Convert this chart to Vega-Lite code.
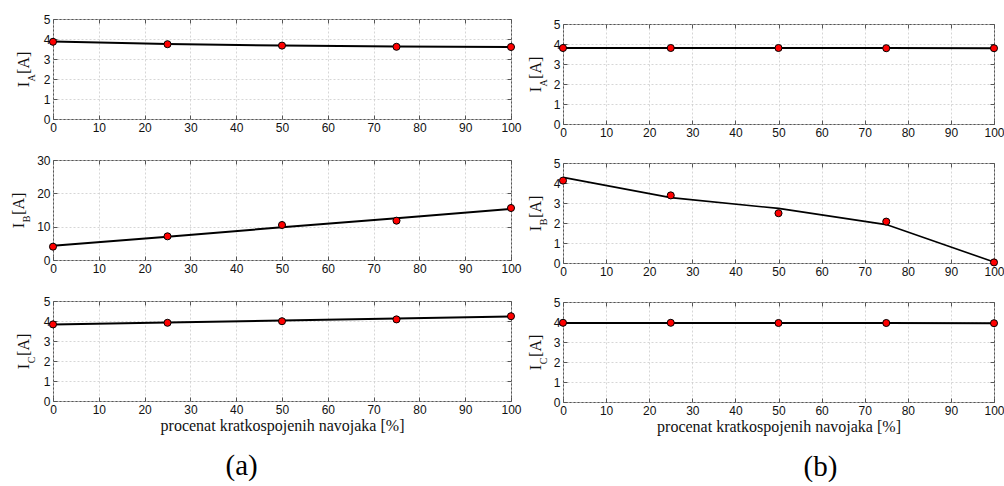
{
  "$schema": "https://vega.github.io/schema/vega-lite/v6.json",
  "padding": {"left": 9, "top": 12, "right": 0, "bottom": 0},
  "background": "white",
  "datasets": {
    "pts": [
      {"panel": "aA", "x": 0, "meas": 3.86, "fit": 3.87},
      {"panel": "aA", "x": 25, "meas": 3.74, "fit": 3.75},
      {"panel": "aA", "x": 50, "meas": 3.67, "fit": 3.67},
      {"panel": "aA", "x": 75, "meas": 3.61, "fit": 3.62},
      {"panel": "aA", "x": 100, "meas": 3.6, "fit": 3.6},
      {"panel": "aB", "x": 0, "meas": 4.0, "fit": 4.3},
      {"panel": "aB", "x": 25, "meas": 7.1, "fit": 7.0},
      {"panel": "aB", "x": 50, "meas": 10.5, "fit": 9.8},
      {"panel": "aB", "x": 75, "meas": 11.8, "fit": 12.5},
      {"panel": "aB", "x": 100, "meas": 15.6, "fit": 15.3},
      {"panel": "aC", "x": 0, "meas": 3.83, "fit": 3.82},
      {"panel": "aC", "x": 25, "meas": 3.91, "fit": 3.92},
      {"panel": "aC", "x": 50, "meas": 3.99, "fit": 4.02},
      {"panel": "aC", "x": 75, "meas": 4.08, "fit": 4.12},
      {"panel": "aC", "x": 100, "meas": 4.24, "fit": 4.22},
      {"panel": "bA", "x": 0, "meas": 3.8, "fit": 3.8},
      {"panel": "bA", "x": 25, "meas": 3.8, "fit": 3.8},
      {"panel": "bA", "x": 50, "meas": 3.8, "fit": 3.8},
      {"panel": "bA", "x": 75, "meas": 3.79, "fit": 3.8},
      {"panel": "bA", "x": 100, "meas": 3.79, "fit": 3.79},
      {"panel": "bB", "x": 0, "meas": 4.12, "fit": 4.28},
      {"panel": "bB", "x": 25, "meas": 3.38, "fit": 3.27},
      {"panel": "bB", "x": 50, "meas": 2.49, "fit": 2.73},
      {"panel": "bB", "x": 75, "meas": 2.07, "fit": 1.92},
      {"panel": "bB", "x": 100, "meas": 0.03, "fit": 0.05},
      {"panel": "bC", "x": 0, "meas": 3.96, "fit": 3.95},
      {"panel": "bC", "x": 25, "meas": 3.96, "fit": 3.95},
      {"panel": "bC", "x": 50, "meas": 3.95, "fit": 3.95},
      {"panel": "bC", "x": 75, "meas": 3.95, "fit": 3.95},
      {"panel": "bC", "x": 100, "meas": 3.94, "fit": 3.94}
    ]
  },
  "data": {"name": "pts"},
  "config": {
    "view": {"stroke": "#555555", "strokeWidth": 1},
    "axis": {
      "domain": false,
      "tickColor": "#555555",
      "tickSize": -4,
      "labelFont": "Liberation Sans",
      "labelFontSize": 12,
      "labelColor": "#111111",
      "labelFlush": false,
      "labelOverlap": false,
      "gridColor": "#cccccc",
      "gridDash": [2, 2],
      "gridWidth": 0.8,
      "titleFont": "Liberation Serif",
      "titleFontWeight": "normal",
      "titleColor": "#111111"
    }
  },
  "hconcat": [
    {
      "title": {"text": "(a)", "orient": "bottom", "anchor": "start", "frame": "bounds", "fontSize": 29, "font": "Liberation Serif", "fontWeight": "normal", "offset": 18, "dx": 216, "color": "#000000"},
      "spacing": 19,
      "vconcat": [
        {
          "width": 458, "height": 100,
          "transform": [{"filter": "datum.panel === 'aA'"}],
          "layer": [
            {"mark": {"type": "line", "color": "#000000", "strokeWidth": 2},
             "encoding": {
               "x": {"field": "x", "type": "quantitative", "scale": {"domain": [0, 100], "nice": false, "zero": false},
                     "axis": {"orient": "bottom", "values": [0,10,20,30,40,50,60,70,80,90,100], "grid": true, "labelPadding": 7, "title": null}},
               "y": {"field": "fit", "type": "quantitative", "scale": {"domain": [0, 5], "nice": false},
                     "axis": {"orient": "left", "values": [0,1,2,3,4,5], "grid": true, "labelPadding": 7, "title": "I\u00a0\u00a0[A]", "titleFontSize": 16, "titleAngle": -90, "titleX": -25, "titleY": 50, "titleAlign": "center", "titleBaseline": "alphabetic"}}
             }},
            {"mark": {"type": "circle", "fill": "#ff0000", "stroke": "#000000", "strokeWidth": 1, "size": 50, "opacity": 1},
             "encoding": {
               "x": {"field": "x", "type": "quantitative", "axis": {"orient": "top", "values": [0,10,20,30,40,50,60,70,80,90,100], "labels": false, "grid": false, "title": null}},
               "y": {"field": "meas", "type": "quantitative", "axis": {"orient": "right", "values": [0,1,2,3,4,5], "labels": false, "grid": false, "title": "A", "titleFontSize": 10, "titleAngle": -90, "titleX": -477, "titleY": 58.4, "titleAlign": "center", "titleBaseline": "alphabetic"}}
             }}
          ],
          "resolve": {"axis": {"x": "independent", "y": "independent"}}
        },
        {
          "width": 458, "height": 100,
          "transform": [{"filter": "datum.panel === 'aB'"}],
          "layer": [
            {"mark": {"type": "line", "color": "#000000", "strokeWidth": 2},
             "encoding": {
               "x": {"field": "x", "type": "quantitative", "scale": {"domain": [0, 100], "nice": false, "zero": false},
                     "axis": {"orient": "bottom", "values": [0,10,20,30,40,50,60,70,80,90,100], "grid": true, "labelPadding": 7, "title": null}},
               "y": {"field": "fit", "type": "quantitative", "scale": {"domain": [0, 30], "nice": false},
                     "axis": {"orient": "left", "values": [0,10,20,30], "grid": true, "labelPadding": 7, "title": "I\u00a0\u00a0[A]", "titleFontSize": 16, "titleAngle": -90, "titleX": -30, "titleY": 50, "titleAlign": "center", "titleBaseline": "alphabetic"}}
             }},
            {"mark": {"type": "circle", "fill": "#ff0000", "stroke": "#000000", "strokeWidth": 1, "size": 50, "opacity": 1},
             "encoding": {
               "x": {"field": "x", "type": "quantitative", "axis": {"orient": "top", "values": [0,10,20,30,40,50,60,70,80,90,100], "labels": false, "grid": false, "title": null}},
               "y": {"field": "meas", "type": "quantitative", "axis": {"orient": "right", "values": [0,10,20,30], "labels": false, "grid": false, "title": "B", "titleFontSize": 10, "titleAngle": -90, "titleX": -482, "titleY": 58.4, "titleAlign": "center", "titleBaseline": "alphabetic"}}
             }}
          ],
          "resolve": {"axis": {"x": "independent", "y": "independent"}}
        },
        {
          "width": 458, "height": 100,
          "transform": [{"filter": "datum.panel === 'aC'"}],
          "layer": [
            {"mark": {"type": "line", "color": "#000000", "strokeWidth": 2},
             "encoding": {
               "x": {"field": "x", "type": "quantitative", "scale": {"domain": [0, 100], "nice": false, "zero": false},
                     "axis": {"orient": "bottom", "values": [0,10,20,30,40,50,60,70,80,90,100], "grid": true, "labelPadding": 7, "title": "procenat kratkospojenih navojaka [%]", "titleFontSize": 16, "titlePadding": 2}},
               "y": {"field": "fit", "type": "quantitative", "scale": {"domain": [0, 5], "nice": false},
                     "axis": {"orient": "left", "values": [0,1,2,3,4,5], "grid": true, "labelPadding": 7, "title": "I\u00a0\u00a0[A]", "titleFontSize": 16, "titleAngle": -90, "titleX": -25, "titleY": 50, "titleAlign": "center", "titleBaseline": "alphabetic"}}
             }},
            {"mark": {"type": "circle", "fill": "#ff0000", "stroke": "#000000", "strokeWidth": 1, "size": 50, "opacity": 1},
             "encoding": {
               "x": {"field": "x", "type": "quantitative", "axis": {"orient": "top", "values": [0,10,20,30,40,50,60,70,80,90,100], "labels": false, "grid": false, "title": null}},
               "y": {"field": "meas", "type": "quantitative", "axis": {"orient": "right", "values": [0,1,2,3,4,5], "labels": false, "grid": false, "title": "C", "titleFontSize": 10, "titleAngle": -90, "titleX": -477, "titleY": 58.4, "titleAlign": "center", "titleBaseline": "alphabetic"}}
             }}
          ],
          "resolve": {"axis": {"x": "independent", "y": "independent"}}
        }
      ]
    },
    {
      "title": {"text": "(b)", "orient": "bottom", "anchor": "start", "frame": "bounds", "fontSize": 29, "font": "Liberation Serif", "fontWeight": "normal", "offset": 18, "dx": 277, "color": "#000000"},
      "spacing": 4,
      "bounds": "flush",
      "vconcat": [
        {
          "width": 431, "height": 1,
          "data": {"values": []},
          "view": {"stroke": null},
          "mark": {"type": "rule", "opacity": 0},
          "encoding": {}
        },
        {
          "spacing": 17,
          "vconcat": [
            {
              "width": 431, "height": 100,
              "transform": [{"filter": "datum.panel === 'bA'"}],
              "layer": [
                {"mark": {"type": "line", "color": "#000000", "strokeWidth": 2},
                 "encoding": {
                   "x": {"field": "x", "type": "quantitative", "scale": {"domain": [0, 100], "nice": false, "zero": false},
                         "axis": {"orient": "bottom", "values": [0,10,20,30,40,50,60,70,80,90,100], "grid": true, "labelPadding": 7, "title": null}},
                   "y": {"field": "fit", "type": "quantitative", "scale": {"domain": [0, 5], "nice": false},
                         "axis": {"orient": "left", "values": [0,1,2,3,4,5], "grid": true, "labelPadding": 7, "title": "I\u00a0\u00a0[A]", "titleFontSize": 16, "titleAngle": -90, "titleX": -23, "titleY": 50, "titleAlign": "center", "titleBaseline": "alphabetic"}}
                 }},
                {"mark": {"type": "circle", "fill": "#ff0000", "stroke": "#000000", "strokeWidth": 1, "size": 50, "opacity": 1},
                 "encoding": {
                   "x": {"field": "x", "type": "quantitative", "axis": {"orient": "top", "values": [0,10,20,30,40,50,60,70,80,90,100], "labels": false, "grid": false, "title": null}},
                   "y": {"field": "meas", "type": "quantitative", "axis": {"orient": "right", "values": [0,1,2,3,4,5], "labels": false, "grid": false, "title": "A", "titleFontSize": 10, "titleAngle": -90, "titleX": -448, "titleY": 58.4, "titleAlign": "center", "titleBaseline": "alphabetic"}}
                 }}
              ],
              "resolve": {"axis": {"x": "independent", "y": "independent"}}
            },
            {
              "width": 431, "height": 100,
              "transform": [{"filter": "datum.panel === 'bB'"}],
              "layer": [
                {"mark": {"type": "line", "color": "#000000", "strokeWidth": 1.6},
                 "encoding": {
                   "x": {"field": "x", "type": "quantitative", "scale": {"domain": [0, 100], "nice": false, "zero": false},
                         "axis": {"orient": "bottom", "values": [0,10,20,30,40,50,60,70,80,90,100], "grid": true, "labelPadding": 7, "title": null}},
                   "y": {"field": "fit", "type": "quantitative", "scale": {"domain": [0, 5], "nice": false},
                         "axis": {"orient": "left", "values": [0,1,2,3,4,5], "grid": true, "labelPadding": 7, "title": "I\u00a0\u00a0[A]", "titleFontSize": 16, "titleAngle": -90, "titleX": -23, "titleY": 50, "titleAlign": "center", "titleBaseline": "alphabetic"}}
                 }},
                {"mark": {"type": "circle", "fill": "#ff0000", "stroke": "#000000", "strokeWidth": 1, "size": 50, "opacity": 1},
                 "encoding": {
                   "x": {"field": "x", "type": "quantitative", "axis": {"orient": "top", "values": [0,10,20,30,40,50,60,70,80,90,100], "labels": false, "grid": false, "title": null}},
                   "y": {"field": "meas", "type": "quantitative", "axis": {"orient": "right", "values": [0,1,2,3,4,5], "labels": false, "grid": false, "title": "B", "titleFontSize": 10, "titleAngle": -90, "titleX": -448, "titleY": 58.4, "titleAlign": "center", "titleBaseline": "alphabetic"}}
                 }}
              ],
              "resolve": {"axis": {"x": "independent", "y": "independent"}}
            },
            {
              "width": 431, "height": 100,
              "transform": [{"filter": "datum.panel === 'bC'"}],
              "layer": [
                {"mark": {"type": "line", "color": "#000000", "strokeWidth": 2},
                 "encoding": {
                   "x": {"field": "x", "type": "quantitative", "scale": {"domain": [0, 100], "nice": false, "zero": false},
                         "axis": {"orient": "bottom", "values": [0,10,20,30,40,50,60,70,80,90,100], "grid": true, "labelPadding": 7, "title": "procenat kratkospojenih navojaka [%]", "titleFontSize": 16, "titlePadding": 2}},
                   "y": {"field": "fit", "type": "quantitative", "scale": {"domain": [0, 5], "nice": false},
                         "axis": {"orient": "left", "values": [0,1,2,3,4,5], "grid": true, "labelPadding": 7, "title": "I\u00a0\u00a0[A]", "titleFontSize": 16, "titleAngle": -90, "titleX": -23, "titleY": 50, "titleAlign": "center", "titleBaseline": "alphabetic"}}
                 }},
                {"mark": {"type": "circle", "fill": "#ff0000", "stroke": "#000000", "strokeWidth": 1, "size": 50, "opacity": 1},
                 "encoding": {
                   "x": {"field": "x", "type": "quantitative", "axis": {"orient": "top", "values": [0,10,20,30,40,50,60,70,80,90,100], "labels": false, "grid": false, "title": null}},
                   "y": {"field": "meas", "type": "quantitative", "axis": {"orient": "right", "values": [0,1,2,3,4,5], "labels": false, "grid": false, "title": "C", "titleFontSize": 10, "titleAngle": -90, "titleX": -448, "titleY": 58.4, "titleAlign": "center", "titleBaseline": "alphabetic"}}
                 }}
              ],
              "resolve": {"axis": {"x": "independent", "y": "independent"}}
            }
          ]
        }
      ]
    }
  ],
  "spacing": 4
}
